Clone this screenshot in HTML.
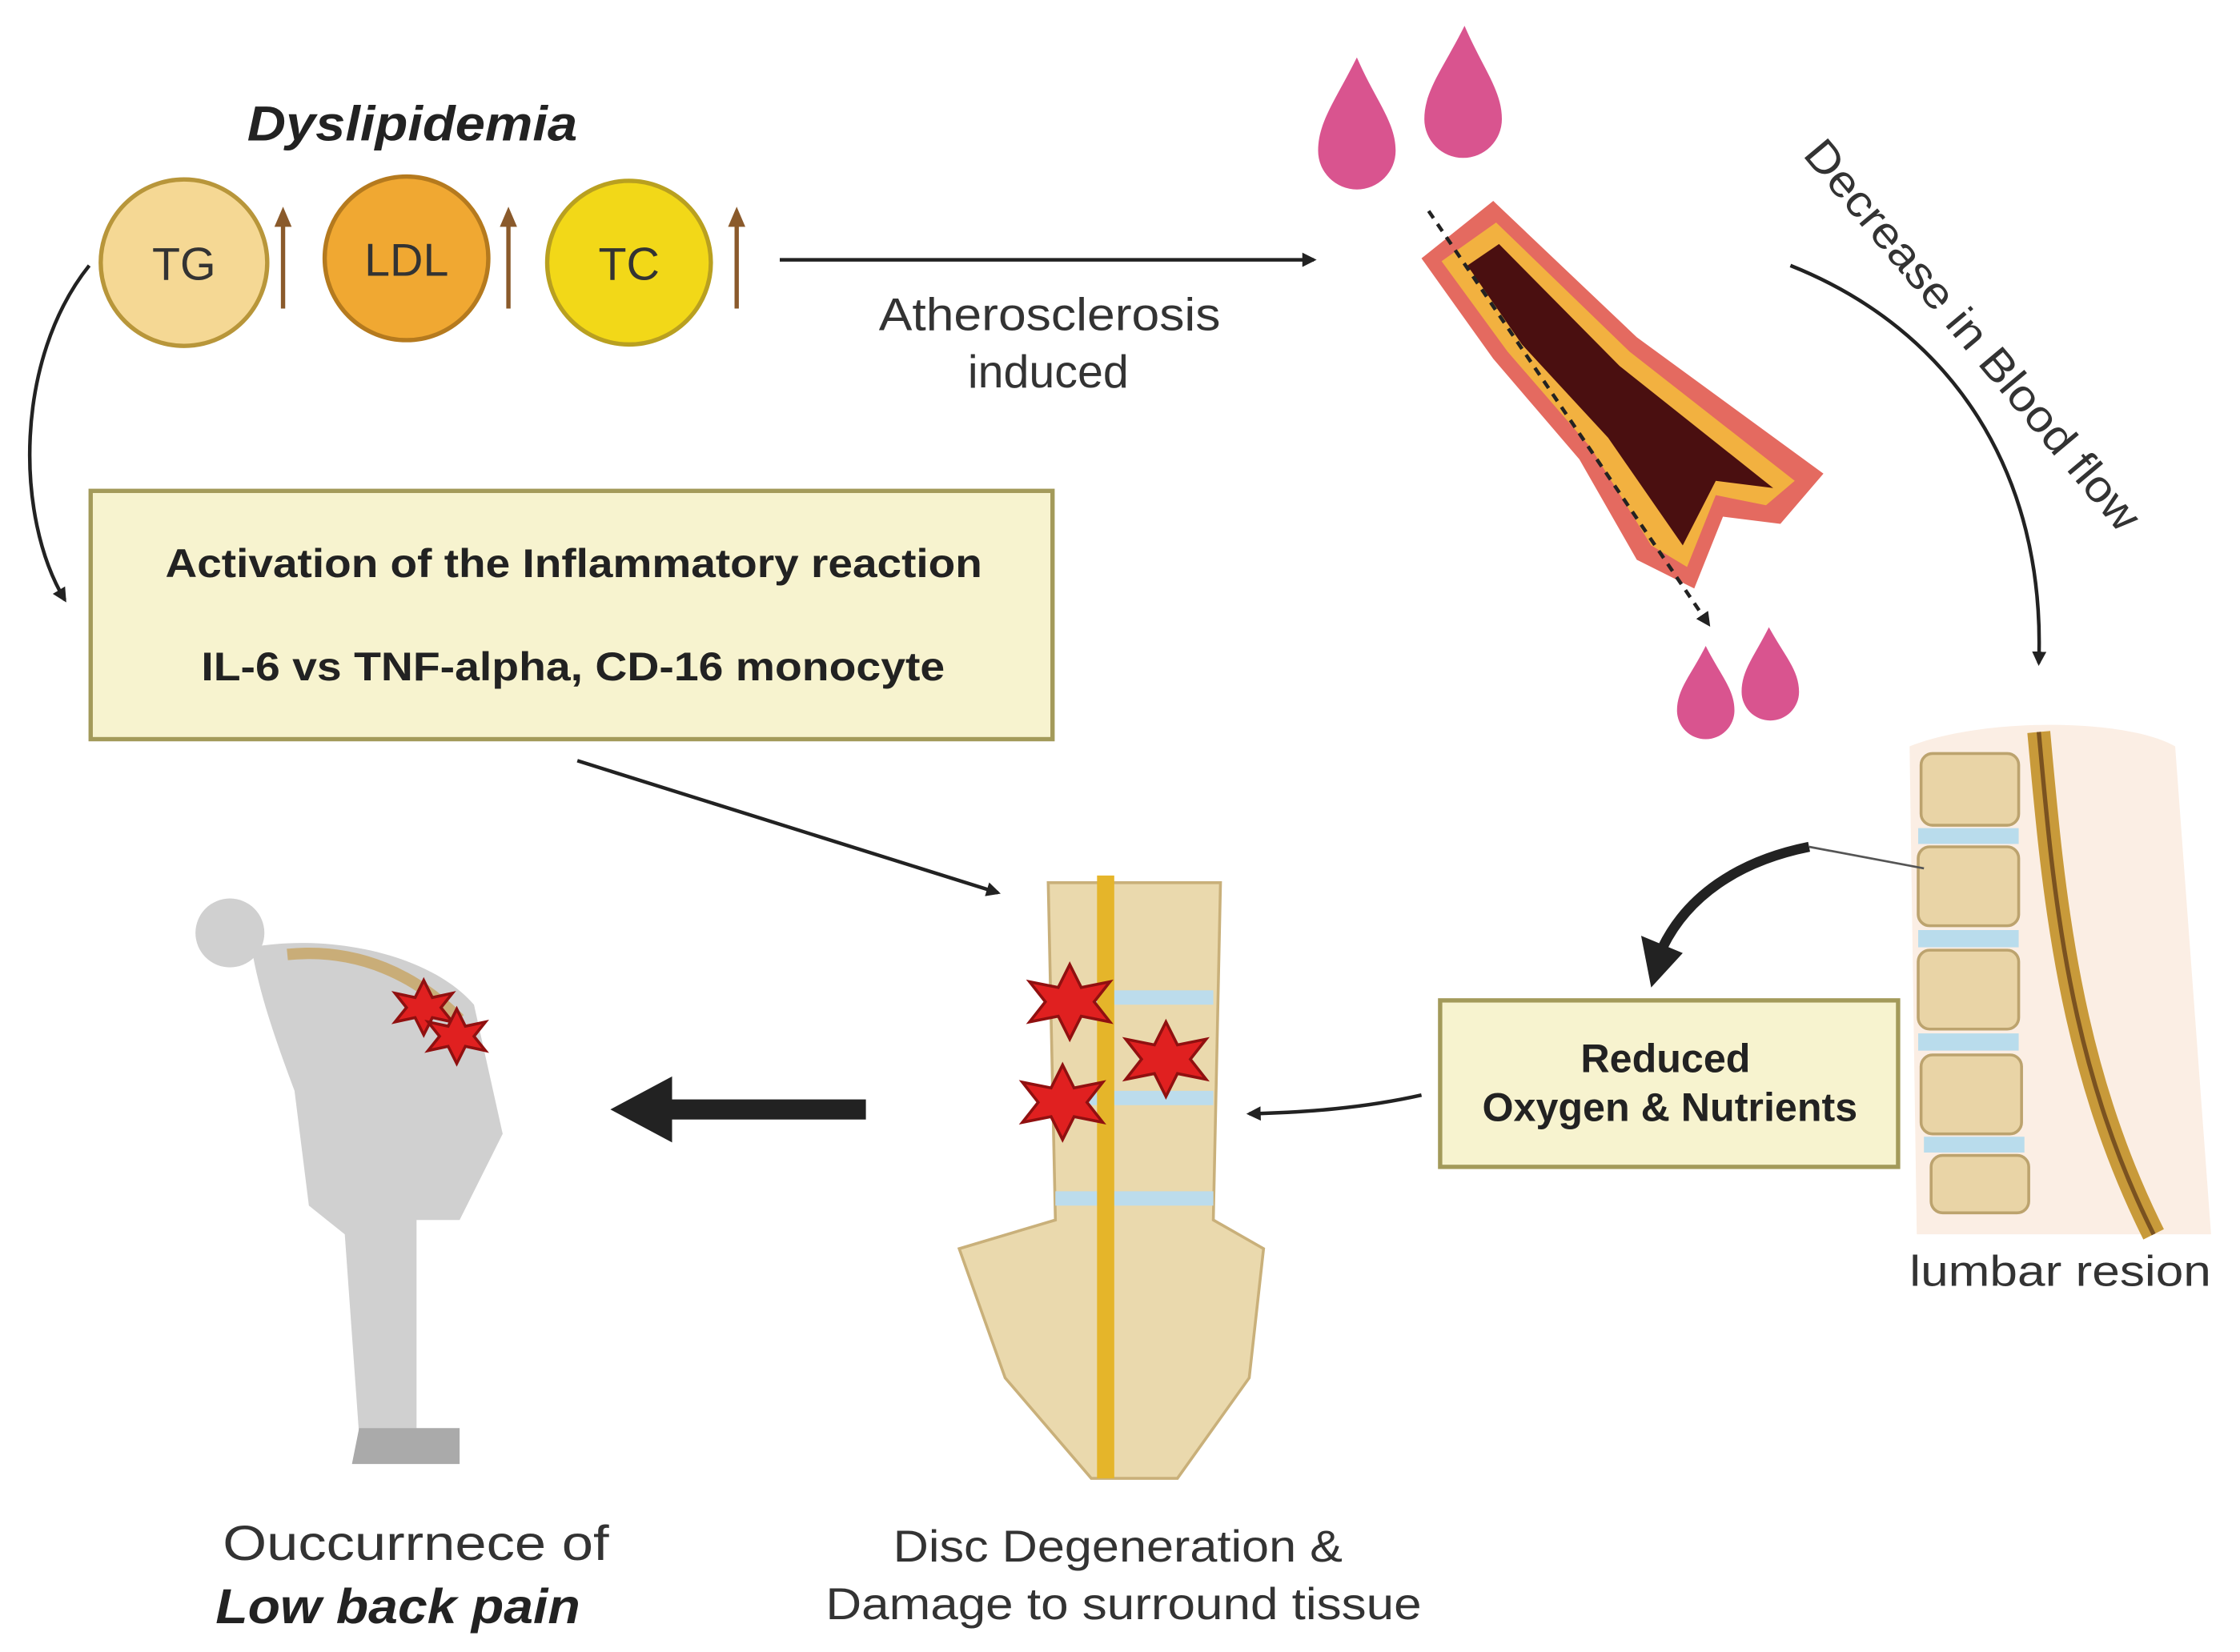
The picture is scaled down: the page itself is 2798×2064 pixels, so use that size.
<!DOCTYPE html>
<html><head><meta charset="utf-8"><style>
html,body{margin:0;padding:0;background:#fff;}
svg{display:block;}
text{font-family:"Liberation Sans",sans-serif;}
</style></head><body>
<svg width="2798" height="2064" viewBox="0 0 1560 1151" xmlns="http://www.w3.org/2000/svg">
<defs>
<marker id="ah" markerWidth="10" markerHeight="10" refX="8" refY="5" orient="auto" markerUnits="userSpaceOnUse"><path d="M0,0 L10,5 L0,10 Z" fill="#222"/></marker>
</defs>
<rect width="1560" height="1151" fill="#fff"/>
<text x="172" y="98" font-size="34" font-weight="bold" font-style="italic" fill="#222" textLength="230" lengthAdjust="spacingAndGlyphs">Dyslipidemia</text>
<circle cx="128" cy="183" r="58" fill="#f5d894" stroke="#b8963a" stroke-width="3"/>
<text x="128" y="195" font-size="32" text-anchor="middle" fill="#333">TG</text>
<circle cx="283" cy="180" r="57" fill="#f0a832" stroke="#b57a1e" stroke-width="3"/>
<text x="283" y="192" font-size="32" text-anchor="middle" fill="#333">LDL</text>
<circle cx="438" cy="183" r="57" fill="#f2d818" stroke="#b9a020" stroke-width="3"/>
<text x="438" y="195" font-size="32" text-anchor="middle" fill="#333">TC</text>
<g stroke="#8a5a2b" stroke-width="3">
<line x1="197" y1="215" x2="197" y2="155"/>
<line x1="354" y1="215" x2="354" y2="155"/>
<line x1="513" y1="215" x2="513" y2="155"/>
</g>
<g fill="#8a5a2b">
<polygon points="191,158 197,144 203,158"/>
<polygon points="348,158 354,144 360,158"/>
<polygon points="507,158 513,144 519,158"/>
</g>
<line x1="543" y1="181" x2="915" y2="181" stroke="#222" stroke-width="2.5" marker-end="url(#ah)"/>
<text x="612" y="230" font-size="32" fill="#333" textLength="238" lengthAdjust="spacingAndGlyphs">Atherosclerosis</text>
<text x="730" y="270" font-size="32" text-anchor="middle" fill="#333">induced</text>
<g fill="#d9548f">
<path d="M945,40 C930,70 918,85 918,105 a27,27 0 0 0 54,0 C972,85 958,70 945,40Z"/>
<path d="M1020,18 C1005,48 992,63 992,83 a27,27 0 0 0 54,0 C1046,63 1033,48 1020,18Z"/>
<path d="M1188,450 C1178,470 1168,480 1168,495 a20,20 0 0 0 40,0 C1208,480 1198,470 1188,450Z"/>
<path d="M1232,437 C1222,457 1213,467 1213,482 a20,20 0 0 0 40,0 C1253,467 1243,457 1232,437Z"/>
</g>
<path d="M990,180 L1040,140 L1140,235 L1270,330 L1240,365 L1200,360 L1180,410 L1140,390 L1100,320 L1040,250 Z" fill="#e46a60"/>
<path d="M1004,182 L1042,155 L1135,245 L1250,335 L1230,352 L1195,345 L1175,395 L1150,380 L1108,312 L1050,245 Z" fill="#f2b140"/>
<path d="M1022,185 L1044,170 L1128,255 L1235,340 L1195,335 L1172,380 L1120,305 L1060,240 Z" fill="#4a0f10"/>
<line x1="995" y1="147" x2="1190" y2="435" stroke="#222" stroke-width="2.5" stroke-dasharray="6,5" marker-end="url(#ah)"/>
<text transform="translate(1255,108) rotate(50)" font-size="31" fill="#333" textLength="345" lengthAdjust="spacingAndGlyphs">Decrease in Blood flow</text>
<path d="M1247,185 C1360,230 1425,330 1420,462" fill="none" stroke="#222" stroke-width="2.5" marker-end="url(#ah)"/>
<path d="M1330,520 C1380,500 1480,500 1515,520 L1540,860 L1335,860 Z" fill="#fbeee4"/>
<g fill="#e9d4a6" stroke="#bca36e" stroke-width="2">
<rect x="1338" y="525" width="68" height="50" rx="8"/>
<rect x="1336" y="590" width="70" height="55" rx="8"/>
<rect x="1336" y="662" width="70" height="55" rx="8"/>
<rect x="1338" y="735" width="70" height="55" rx="8"/>
<rect x="1345" y="805" width="68" height="40" rx="8"/>
</g>
<g fill="#b9dcec"><rect x="1336" y="577" width="70" height="11"/><rect x="1336" y="648" width="70" height="12"/><rect x="1336" y="720" width="70" height="12"/><rect x="1340" y="792" width="70" height="11"/></g>
<path d="M1420,510 C1430,620 1440,740 1500,860" fill="none" stroke="#c89a3a" stroke-width="16"/>
<path d="M1420,510 C1430,620 1440,740 1500,860" fill="none" stroke="#7a5220" stroke-width="3"/>
<text x="1330" y="896" font-size="30" fill="#333" textLength="210" lengthAdjust="spacingAndGlyphs">lumbar resion</text>
<line x1="1340" y1="605" x2="1260" y2="590" stroke="#555" stroke-width="1.5"/>
<path d="M1260,590 C1210,600 1175,625 1158,660" fill="none" stroke="#222" stroke-width="7"/>
<polygon points="1143,652 1150,688 1172,664" fill="#222"/>
<rect x="1003" y="697" width="319" height="116" fill="#f7f3cf" stroke="#a39a5a" stroke-width="3"/>
<text x="1160" y="747" font-size="28" font-weight="bold" text-anchor="middle" fill="#222">Reduced</text>
<text x="1163" y="781" font-size="28" font-weight="bold" text-anchor="middle" fill="#222">Oxygen &amp; Nutrients</text>
<path d="M990,763 C950,772 910,775 870,776" fill="none" stroke="#222" stroke-width="2.5" marker-end="url(#ah)"/>
<rect x="63" y="342" width="670" height="173" fill="#f7f3cf" stroke="#a39a5a" stroke-width="3"/>
<text x="115" y="402" font-size="28" font-weight="bold" fill="#222" textLength="569" lengthAdjust="spacingAndGlyphs">Activation of the Inflammatory reaction</text>
<text x="140" y="474" font-size="28" font-weight="bold" fill="#222" textLength="518" lengthAdjust="spacingAndGlyphs">IL-6 vs TNF-alpha, CD-16 monocyte</text>
<path d="M62,185 C10,250 10,360 45,418" fill="none" stroke="#222" stroke-width="2.5" marker-end="url(#ah)"/>
<line x1="402" y1="530" x2="695" y2="622" stroke="#222" stroke-width="2.5" marker-end="url(#ah)"/>
<path d="M730,615 L850,615 L845,850 L880,870 L870,960 L820,1030 L760,1030 L700,960 L668,870 L735,850 Z" fill="#ead9ad" stroke="#c9b07a" stroke-width="2"/>
<g fill="#bcdcec"><rect x="735" y="690" width="110" height="10"/><rect x="735" y="760" width="110" height="10"/><rect x="735" y="830" width="110" height="10"/></g>
<rect x="764" y="610" width="12" height="420" fill="#e5b52a"/>
<g fill="#e02020" stroke="#901010" stroke-width="2">
<polygon points="745,672 753,688 773,684 762,698 773,712 753,708 745,724 737,708 717,712 728,698 717,684 737,688"/>
<polygon points="812,712 820,728 840,724 829,738 840,752 820,748 812,764 804,748 784,752 795,738 784,724 804,728"/>
<polygon points="740,742 748,758 768,754 757,768 768,782 748,778 740,794 732,778 712,782 723,768 712,754 732,758"/>
</g>
<rect x="465" y="766" width="138" height="14" fill="#222"/>
<polygon points="425,773 468,750 468,796" fill="#222"/>
<g fill="#d0d0d0">
<circle cx="160" cy="650" r="24"/>
<path d="M175,660 C230,650 300,665 330,700 L350,790 L320,850 L290,850 L290,1000 L250,1000 L240,860 L215,840 L205,760 C190,720 180,690 175,660Z"/>
<path d="M250,995 L320,995 L320,1020 L245,1020 Z" fill="#aaa"/>
</g>
<path d="M200,665 C250,660 290,680 320,710" fill="none" stroke="#c9ad78" stroke-width="8"/>
<g fill="#e02020" stroke="#901010" stroke-width="2">
<polygon points="295,683 301,695 315,692 307,702 315,712 301,709 295,721 289,709 275,712 283,702 275,692 289,695"/>
<polygon points="318,703 324,715 338,712 330,722 338,732 324,729 318,741 312,729 298,732 306,722 298,712 312,715"/>
</g>
<text x="155" y="1087" font-size="34" fill="#333" textLength="269" lengthAdjust="spacingAndGlyphs">Ouccurrnece of</text>
<text x="150" y="1131" font-size="34" font-weight="bold" font-style="italic" fill="#222" textLength="254" lengthAdjust="spacingAndGlyphs">Low back pain</text>
<text x="622" y="1088" font-size="31" fill="#333" textLength="313" lengthAdjust="spacingAndGlyphs">Disc Degeneration &amp;</text>
<text x="575" y="1128" font-size="31" fill="#333" textLength="415" lengthAdjust="spacingAndGlyphs">Damage to surround tissue</text>
</svg>
</body></html>
